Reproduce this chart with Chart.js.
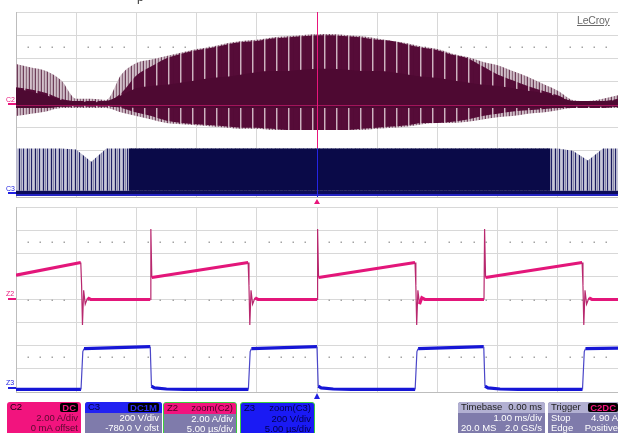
<!DOCTYPE html>
<html>
<head>
<meta charset="utf-8">
<script src="https://cdn.jsdelivr.net/npm/chart.js@4.4.0/dist/chart.umd.min.js"></script>
<style>
  body { margin:0; width:618px; height:433px; overflow:hidden; background:#fff; position:relative; font-family:'Liberation Sans', Arial, sans-serif; }
  canvas { position:absolute; left:0; }
  .lbl { position:absolute; left:6px; font-size:7px; line-height:7px; }
  .mark { position:absolute; left:8px; width:8px; height:2px; }
  .box { position:absolute; top:402px; height:36px; border-radius:3px; font-size:9.5px; overflow:hidden; box-sizing:border-box; z-index:2; }
  .row { position:relative; height:10.5px; line-height:10.5px; padding:0 3px; white-space:nowrap; }
  .row .r { position:absolute; right:3px; top:0; }
  .badge { background:#000; border-radius:2px; padding:0 2px; font-weight:bold; line-height:9px; top:1px !important; }
  .lavender { background:#7f7bab; color:#fff; }
  .hdr { background:#b2b0d2; color:#222; }
  .tri { position:absolute; width:0; height:0; border-left:3.5px solid transparent; border-right:3.5px solid transparent; z-index:2; }
</style>
</head>
<body>
<canvas id="topChart" width="620" height="200" style="top:0;width:620px;height:200px"></canvas>
<canvas id="zoomChart" width="620" height="201" style="top:199px;width:620px;height:201px"></canvas>

<!-- title line sits above the photo, only a descender shows -->
<div style="position:absolute;left:137px;top:-10px;font-size:12px;color:#333">p</div>
<div style="position:absolute;left:577px;top:14px;font-size:10.5px;color:#6a6a6a;text-decoration:underline;letter-spacing:-0.2px">LeCroy</div>

<div class="lbl" style="top:96px;color:#e8167c">C2</div>
<div class="mark" style="top:103px;background:#e8167c"></div>
<div class="lbl" style="top:185px;color:#2020e0">C3</div>
<div class="mark" style="top:192px;background:#2020e0"></div>
<div class="lbl" style="top:290px;color:#e8167c">Z2</div>
<div class="mark" style="top:298px;background:#e8167c"></div>
<div class="lbl" style="top:379px;color:#2020e0">Z3</div>
<div class="mark" style="top:387px;background:#2020e0"></div>

<div class="tri" style="left:314px;top:199px;border-bottom:5px solid #e8167c"></div>
<div class="tri" style="left:314px;top:393px;border-bottom:6px solid #2020e0"></div>

<div class="box" style="left:7px;width:74px;background:#f2147e;color:#5a0a30">
  <div class="row" style="color:#1a0010">C2<span class="r badge" style="color:#f2147e">DC</span></div>
  <div class="row"><span class="r">2.00 A/div</span></div>
  <div class="row"><span class="r">0 mA offset</span></div>
</div>
<div class="box lavender" style="left:85px;width:77px">
  <div class="row" style="background:#2222f2;color:#000040">C3<span class="r badge" style="color:#2a2af0">DC1M</span></div>
  <div class="row"><span class="r">200 V/div</span></div>
  <div class="row"><span class="r">-780.0 V ofst</span></div>
</div>
<div class="box lavender" style="left:163px;width:74px;border:1px solid #3ccf3c">
  <div class="row" style="background:#f2147e;color:#4a0020">Z2<span class="r">zoom(C2)</span></div>
  <div class="row"><span class="r">2.00 A/div</span></div>
  <div class="row"><span class="r">5.00 µs/div</span></div>
</div>
<div class="box" style="left:240px;width:75px;border:1px solid #3ccf3c;background:#1a1af4;color:#000050">
  <div class="row">Z3<span class="r">zoom(C3)</span></div>
  <div class="row"><span class="r">200 V/div</span></div>
  <div class="row"><span class="r">5.00 µs/div</span></div>
</div>
<div class="box lavender" style="left:458px;width:87px">
  <div class="row hdr">Timebase<span class="r">0.00 ms</span></div>
  <div class="row"><span class="r">1.00 ms/div</span></div>
  <div class="row">20.0 MS<span class="r">2.0 GS/s</span></div>
</div>
<div class="box lavender" style="left:548px;width:76px">
  <div class="row hdr">Trigger<span class="r badge" style="color:#f2147e;right:6px">C2DC</span></div>
  <div class="row">Stop<span class="r" style="right:6px">4.90 A</span></div>
  <div class="row">Edge<span class="r" style="right:6px">Positive</span></div>
</div>

<script>
// ---- acquisition (C2 current envelope, C3 voltage), 1 ms/div ----
const tMs = [-5, -4.75, -4.5, -4.25, -4, -3.75, -3.5, -3.25, -3, -2.75, -2.5, -2.25, -2, -1.75, -1.5, -1.25, -1, -0.75, -0.5, -0.25,
             0, 0.25, 0.5, 0.75, 1, 1.25, 1.5, 1.75, 2, 2.25, 2.5, 2.75, 3, 3.25, 3.5, 3.75, 4, 4.25, 4.5, 4.75, 5];

// C2 (A): outer envelope
const c2EnvHi = [3.5, 3.2, 2.9, 2.1, 0.5, 0.5, 0.4, 2.6, 3.6, 3.9, 4.2, 4.5, 4.8, 5.0, 5.3, 5.5, 5.6, 5.8, 5.9, 6.0,
                 6.1, 6.1, 6.0, 5.9, 5.7, 5.5, 5.3, 5.0, 4.8, 4.4, 4.1, 3.7, 3.4, 2.9, 2.4, 1.8, 1.2, 0.4, 0.3, 0.5, 0.8];
const c2EnvLo = [-1.0, -0.8, -0.6, -0.3, -0.3, -0.3, -0.3, -0.7, -1.0, -1.3, -1.6, -1.7, -1.8, -1.9, -2.0, -2.1, -2.1, -2.2, -2.2, -2.2,
                 -2.2, -2.2, -2.2, -2.2, -2.1, -2.0, -1.9, -1.7, -1.6, -1.6, -1.5, -1.3, -1.1, -1.0, -0.8, -0.7, -0.5, -0.3, -0.3, -0.3, -0.3];
// C2 (A): dense switching region
const c2DarkHi = [1.5, 1.3, 1.0, 0.5, 0.3, 0.3, 0.3, 1.0, 2.5, 3.3, 4.0, 4.4, 4.7, 4.9, 5.2, 5.4, 5.5, 5.7, 5.8, 5.9,
                  6.0, 6.0, 5.9, 5.8, 5.6, 5.5, 5.2, 4.9, 4.7, 4.3, 4.0, 3.3, 2.6, 2.1, 1.6, 1.2, 0.8, 0.3, 0.3, 0.3, 0.5];
const c2DarkLo = [-0.3, -0.3, -0.3, -0.2, -0.2, -0.2, -0.2, -0.3, -0.7, -1.0, -1.4, -1.6, -1.7, -1.8, -1.9, -2.0, -2.0, -2.1, -2.2, -2.2,
                  -2.2, -2.2, -2.2, -2.1, -2.0, -1.9, -1.8, -1.6, -1.6, -1.5, -1.3, -1.0, -0.8, -0.6, -0.5, -0.4, -0.3, -0.3, -0.3, -0.3, -0.2];
// C2 (A): solid core
const c2CoreHi = [1.4, 1.1, 0.8, 0.4, 0.3, 0.2, 0.3, 0.8, 1.4, 1.6, 1.7, 1.9, 2.1, 2.3, 2.4, 2.6, 2.8, 2.9, 2.9, 3.0,
                  3.1, 3.1, 3.0, 2.9, 2.9, 2.8, 2.6, 2.4, 2.3, 2.1, 1.9, 1.7, 1.6, 1.4, 1.2, 1.0, 0.7, 0.3, 0.3, 0.3, 0.4];
const c2CoreLo = [-0.3, -0.3, -0.3, -0.2, -0.1, -0.1, -0.1, -0.2, -0.3, -0.3, -0.3, -0.3, -0.3, -0.3, -0.3, -0.3, -0.3, -0.3, -0.3, -0.3,
                  -0.3, -0.3, -0.3, -0.3, -0.3, -0.3, -0.3, -0.3, -0.3, -0.3, -0.3, -0.3, -0.3, -0.3, -0.3, -0.3, -0.3, -0.2, -0.2, -0.2, -0.2];
// C3 (V): top of switching band and the part where it is fully dense
const c3Top   = [400, 400, 400, 400, 390, 285, 400, 400, 400, 400, 400, 400, 400, 400, 400, 400, 400, 400, 400, 400,
                 400, 400, 400, 400, 400, 400, 400, 400, 400, 400, 400, 400, 400, 400, 400, 400, 400, 380, 295, 400, 400];
const c3Dense = [35, 35, 35, 35, 35, 35, 35, 35, 400, 400, 400, 400, 400, 400, 400, 400, 400, 400, 400, 400,
                 400, 400, 400, 400, 400, 400, 400, 400, 400, 400, 400, 400, 400, 400, 400, 400, 35, 35, 35, 35, 35];
const c3Floor = 35;

// ---- zoom traces, 5 us/div ----
const z2Time = [-25, -19.62, -19.55, -19.48, -19.38, -19.25, -19.05, -18.8, -13.85, -13.8, -13.72,
                -5.72, -5.65, -5.58, -5.48, -5.35, -5.15, -4.9, 0, 0.05, 0.13,
                8.14, 8.21, 8.28, 8.38, 8.51, 8.71, 8.96, 13.87, 13.92, 14.0,
                22.02, 22.09, 22.16, 22.26, 22.39, 22.59, 22.84, 25];
const z2Amps = [2.1, 3.2, 1.2, -2.2, 0.8, -0.4, 0.15, 0, 0, 6.1, 1.9,
                3.2, 1.2, -2.2, 0.8, -0.4, 0.15, 0, 0, 6.1, 1.9,
                3.2, 1.2, -2.2, 0.8, -0.4, 0.15, 0, 0, 6.1, 1.9,
                3.2, 1.2, -2.2, 0.8, -0.4, 0.15, 0, 0];
const z3Time = [-25, -19.6, -19.45, -19.35, -13.85, -13.75, -13.5, -12.5, -11,
                -5.7, -5.55, -5.45, 0, 0.1, 0.35, 1.35, 2.85,
                8.15, 8.3, 8.4, 13.85, 13.95, 14.2, 15.2, 16.7,
                22.05, 22.2, 22.3, 25];
const z3Volts = [2, 2, 330, 355, 372, 30, 15, 6, 2,
                 2, 330, 355, 372, 30, 15, 6, 2,
                 2, 330, 355, 372, 30, 15, 6, 2,
                 2, 330, 355, 360];

const dotRowsAmps = [5, 0, -5];

function pts(xs, ys) { return xs.map((x, i) => ({ x: x, y: ys[i] })); }

function makePattern(ctx, colors) {
    const c = document.createElement('canvas');
    c.width = colors.length; c.height = 1;
    const g = c.getContext('2d');
    colors.forEach((col, i) => { g.fillStyle = col; g.fillRect(i, 0, 1, 1); });
    return ctx.createPattern(c, 'repeat');
}

const gridOpts = { color: '#d8d8d8', drawTicks: false, lineWidth: 1 };
const borderOpts = { color: '#bdbdbd' };

function scopeScales(xMin, xMax, xStep) {
    return {
        x: { type: 'linear', min: xMin, max: xMax, ticks: { display: false, stepSize: xStep }, grid: gridOpts, border: borderOpts },
        y: { type: 'linear', min: -8, max: 8, ticks: { display: false, stepSize: 2 }, grid: gridOpts, border: borderOpts },
        yv: { type: 'linear', min: -20, max: 1580, display: false }
    };
}

const dotRows = {
    id: 'dotRows',
    beforeDatasetsDraw(chart) {
        const { ctx, chartArea, scales } = chart;
        const step = (chartArea.right - chartArea.left) / 50;
        ctx.save();
        ctx.fillStyle = '#a4a4a4';
        dotRowsAmps.forEach(v => {
            const y = Math.round(scales.y.getPixelForValue(v));
            for (let i = 1; i < 50; i++) {
                if (i % 5 === 0) continue;
                ctx.fillRect(Math.round(chartArea.left + i * step) - 0.5, y - 0.5, 1.5, 1.5);
            }
        });
        ctx.restore();
    }
};

const cursorLines = {
    id: 'cursorLines',
    afterDatasetsDraw(chart) {
        const { ctx, chartArea, scales } = chart;
        const x0 = Math.round(scales.x.getPixelForValue(0)) + 0.5;
        const y0 = Math.round(scales.y.getPixelForValue(0)) + 0.5;
        const ySplit = scales.yv.getPixelForValue(400);
        ctx.save();
        ctx.lineWidth = 1;
        ctx.strokeStyle = 'rgba(232,30,125,0.55)';
        ctx.beginPath(); ctx.moveTo(chartArea.left, y0); ctx.lineTo(chartArea.right, y0); ctx.stroke();
        ctx.strokeStyle = '#e8167c';
        ctx.beginPath(); ctx.moveTo(x0, chartArea.top); ctx.lineTo(x0, ySplit); ctx.stroke();
        ctx.strokeStyle = '#2424e6';
        ctx.beginPath(); ctx.moveTo(x0, ySplit); ctx.lineTo(x0, chartArea.bottom); ctx.stroke();
        ctx.restore();
    }
};

function bandPair(hi, lo, bg, order, axis) {
    return [
        { data: pts(tMs, hi), yAxisID: axis, borderWidth: 0, pointRadius: 0, fill: '+1', backgroundColor: bg, order: order, cubicInterpolationMode: 'monotone' },
        { data: pts(tMs, lo), yAxisID: axis, borderWidth: 0, pointRadius: 0, fill: false, order: order, cubicInterpolationMode: 'monotone' }
    ];
}

function drawTopChart() {
    const canvas = document.getElementById('topChart');
    const ctx = canvas.getContext('2d');
    const envPattern = makePattern(ctx, ['#d3c1cb', '#c5b0bc', '#8d6a7d', '#cfbbc6', '#b9a2b0', '#6f3d59']);
    const darkPattern = makePattern(ctx, ['#cdb2c0', '#8e5a76', '#560c38', '#560c38', '#560c38', '#540b36',
                                          '#560c38', '#560c38', '#560c38', '#560c38', '#550b37', '#560c38']);
    const c3Pattern = makePattern(ctx, ['#b9b9cd', '#c6c6d8', '#aeaec4', '#1a1a5e', '#b5b5cb', '#8a8aaa', '#c2c2d4', '#22226a']);

    new Chart(ctx, {
        type: 'line',
        data: {
            datasets: [
                ...bandPair(c2EnvHi, c2EnvLo, envPattern, 9, 'y'),
                ...bandPair(c2DarkHi, c2DarkLo, darkPattern, 8, 'y'),
                ...bandPair(c2CoreHi, c2CoreLo, '#4e0932', 7, 'y'),
                { data: pts(tMs, c3Top), yAxisID: 'yv', borderWidth: 0, pointRadius: 0, fill: { value: c3Floor }, backgroundColor: c3Pattern, order: 6 },
                { data: pts(tMs, c3Dense), yAxisID: 'yv', borderWidth: 0, pointRadius: 0, fill: { value: c3Floor }, backgroundColor: '#0a0a48', stepped: 'middle', order: 5 },
                { data: pts([-5, 5], [12, 12]), yAxisID: 'yv', borderWidth: 5, borderColor: '#0c0c58', pointRadius: 0, fill: false, order: 4 },
                { data: pts([-5, 5], [-2, -2]), yAxisID: 'yv', borderWidth: 2, borderColor: '#2424c4', pointRadius: 0, fill: false, order: 3 }
            ]
        },
        options: {
            responsive: false,
            animation: false,
            events: [],
            layout: { padding: { left: 16, top: 12, right: 2, bottom: 3 } },
            plugins: { legend: { display: false }, tooltip: { enabled: false } },
            scales: scopeScales(-5, 5, 1)
        },
        plugins: [dotRows, cursorLines]
    });
}

function edgeWidth(thick) {
    return ctx => Math.abs(ctx.p1.parsed.x - ctx.p0.parsed.x) < 0.2 ? 1.2 : thick;
}

function drawZoomChart() {
    const ctx = document.getElementById('zoomChart').getContext('2d');
    new Chart(ctx, {
        type: 'line',
        data: {
            datasets: [
                { data: pts(z2Time, z2Amps), yAxisID: 'y', borderColor: '#e3167a', borderWidth: 3.2, pointRadius: 0, fill: false,
                  segment: { borderWidth: edgeWidth(3.2), borderColor: c => Math.abs(c.p1.parsed.x - c.p0.parsed.x) < 0.2 ? '#b8286e' : '#e3167a' } },
                { data: pts(z3Time, z3Volts), yAxisID: 'yv', borderColor: '#1616d6', borderWidth: 3.2, pointRadius: 0, fill: false,
                  segment: { borderWidth: edgeWidth(3.2), borderColor: c => Math.abs(c.p1.parsed.x - c.p0.parsed.x) < 0.2 ? '#4a46c8' : '#1616d6' } }
            ]
        },
        options: {
            responsive: false,
            animation: false,
            events: [],
            layout: { padding: { left: 16, top: 8, right: 2, bottom: 8 } },
            plugins: { legend: { display: false }, tooltip: { enabled: false } },
            scales: scopeScales(-25, 25, 5)
        },
        plugins: [dotRows]
    });
}

drawTopChart();
drawZoomChart();
</script>
</body>
</html>
